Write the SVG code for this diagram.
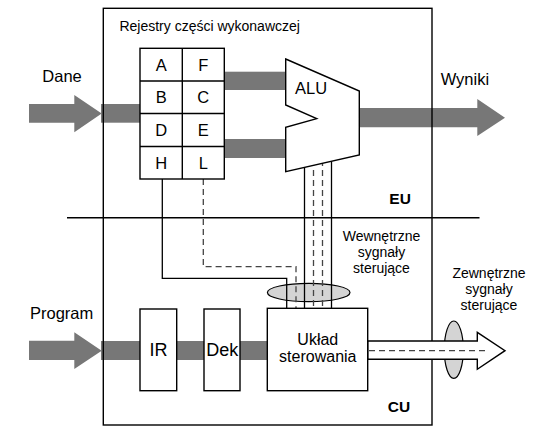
<svg xmlns="http://www.w3.org/2000/svg" width="546" height="427" viewBox="0 0 546 427">
<style>
text{font-family:"Liberation Sans",Arial,sans-serif;fill:#000}
.lbl{font-size:16.5px}
.reg{font-size:16.5px;text-anchor:middle}
.big{font-size:18px;text-anchor:middle}
.sm{font-size:14px;text-anchor:middle}
.bold{font-size:15.5px;font-weight:bold}
.band{fill:#777}
.ln{fill:none;stroke:#000;stroke-width:1.4}
.box{fill:#fff;stroke:#000;stroke-width:1.4}
.w{fill:none;stroke:#000;stroke-width:1.3}
.d{fill:none;stroke:#444;stroke-width:1.3;stroke-dasharray:6 4}
.ell{fill:#d4d4d4;stroke:#000;stroke-width:1.2}
</style>
<rect width="546" height="427" fill="#fff"/>

<g id="bands">
<polygon class="band" points="29,104 74.3,104 74.3,95 101.7,113.5 74.3,132.3 74.3,122.7 29,122.7"/>
<rect class="band" x="101" y="104" width="39" height="18.7"/>
<rect class="band" x="224" y="71.7" width="64" height="18.3"/>
<rect class="band" x="224" y="139" width="64" height="19"/>
<polygon class="band" points="358,108 477.3,108 477.3,99 505,117.7 477.3,136 477.3,127.3 358,127.3"/>
<polygon class="band" points="29,340.7 74.3,340.7 74.3,332.3 101.7,350.7 74.3,369 74.3,360 29,360"/>
<rect class="band" x="101" y="341" width="167" height="19"/>
</g>

<g id="frame">
<rect class="ln" x="103.3" y="8.3" width="328.7" height="416.7"/>
<line class="ln" x1="67" y1="217.7" x2="479.5" y2="217.7"/>
</g>

<g id="title"><text class="sm" x="119.4" y="30.5" style="text-anchor:start">Rejestry części wykonawczej</text></g>
<g id="label-dane"><text class="lbl" x="42.3" y="82">Dane</text></g>
<g id="label-wyniki"><text class="lbl" x="440.7" y="85">Wyniki</text></g>
<g id="label-program"><text class="lbl" x="30" y="318.5">Program</text></g>
<g id="label-eu"><text class="bold" x="389.3" y="204.3">EU</text></g>
<g id="label-cu"><text class="bold" x="387.7" y="412.3">CU</text></g>
<g id="label-wew">
<text class="sm" x="381.5" y="240.7">Wewnętrzne</text>
<text class="sm" x="381.5" y="257">sygnały</text>
<text class="sm" x="381.5" y="273.3">sterujące</text>
</g>
<g id="label-zew">
<text class="sm" x="489" y="278">Zewnętrzne</text>
<text class="sm" x="489" y="294">sygnały</text>
<text class="sm" x="489" y="310">sterujące</text>
</g>

<g id="ellipse-int"><ellipse class="ell" cx="308.7" cy="292.5" rx="41.3" ry="9.2"/></g>
<g id="ellipse-ext"><ellipse class="ell" cx="453.8" cy="349.7" rx="9.5" ry="28.7"/></g>

<g id="connectors">
<polyline class="w" points="162.3,179 162.3,278.3 286.7,278.3 286.7,308.3"/>
<polyline class="d" points="203.3,179 203.3,266.7 296,266.7 296,308.3"/>
<line class="w" x1="304.5" y1="160" x2="304.5" y2="308.3"/>
<line class="w" x1="331.5" y1="160" x2="331.5" y2="308.3"/>
<line class="d" x1="313.5" y1="160" x2="313.5" y2="308.3"/>
<line class="d" x1="322.5" y1="160" x2="322.5" y2="308.3"/>
<polygon class="box" points="367.7,341 477.3,341 477.3,332.3 505,350.7 477.3,369.3 477.3,359.3 367.7,359.3"/>
<line class="d" x1="369" y1="350.7" x2="487" y2="350.7"/>
</g>

<g id="registers">
<rect class="box" x="140" y="48.3" width="84.3" height="130.7"/>
<line class="ln" x1="182.3" y1="48.3" x2="182.3" y2="179"/>
<line class="ln" x1="140" y1="81" x2="224.3" y2="81"/>
<line class="ln" x1="140" y1="113.5" x2="224.3" y2="113.5"/>
<line class="ln" x1="140" y1="146.5" x2="224.3" y2="146.5"/>
<text class="reg" x="161.2" y="70.5">A</text>
<text class="reg" x="203.3" y="70.5">F</text>
<text class="reg" x="161.2" y="103.2">B</text>
<text class="reg" x="203.3" y="103.2">C</text>
<text class="reg" x="161.2" y="136">D</text>
<text class="reg" x="203.3" y="136">E</text>
<text class="reg" x="161.2" y="168.7">H</text>
<text class="reg" x="203.3" y="168.7">L</text>
</g>

<g id="alu">
<polygon class="box" points="285.7,59 359.3,91 359.3,155 285.7,171.7 285.7,127.3 316.7,118.7 285.7,105"/>
<text class="lbl" x="295" y="94.3">ALU</text>
</g>

<g id="ir">
<rect class="box" x="140" y="309" width="36.7" height="81.7"/>
<text class="big" x="158.4" y="356">IR</text>
</g>
<g id="dek">
<rect class="box" x="204" y="309" width="36" height="81.7"/>
<text class="big" x="222.3" y="356">Dek</text>
</g>
<g id="uklad">
<rect class="box" x="267.3" y="308.3" width="100.4" height="82.4"/>
<text class="lbl" x="317.8" y="345" style="text-anchor:middle;font-size:16px">Układ</text>
<text class="lbl" x="317.8" y="361.7" style="text-anchor:middle;font-size:16px">sterowania</text>
</g>
</svg>
